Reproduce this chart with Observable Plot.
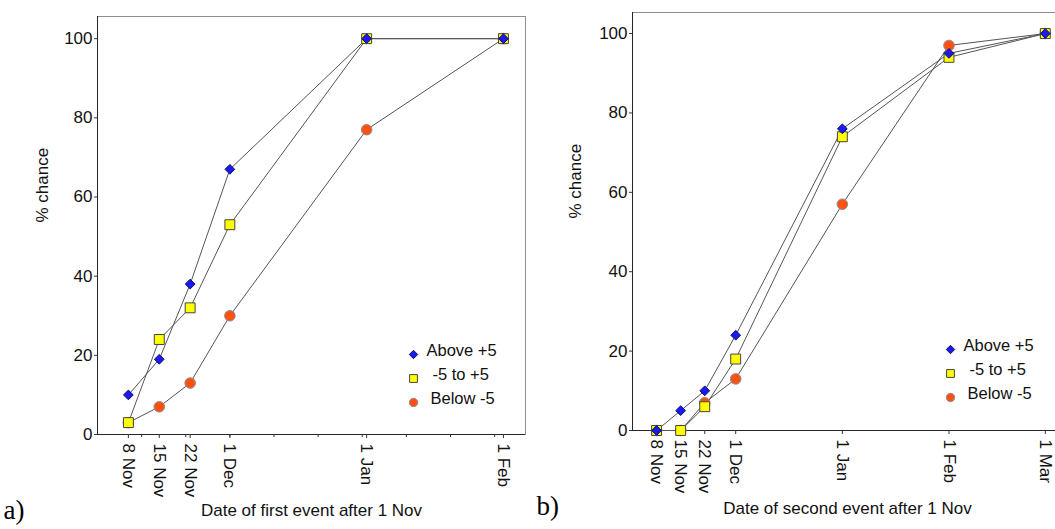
<!DOCTYPE html>
<html>
<head>
<meta charset="utf-8">
<script src="https://cdn.jsdelivr.net/npm/d3@7"></script>
<script src="https://cdn.jsdelivr.net/npm/@observablehq/plot@0.6"></script>
<style>
  html, body { margin: 0; padding: 0; background: #fff; overflow: hidden; }
  #wrap { position: relative; width: 1055px; height: 529px; overflow: hidden; background: #fff; }
  #wrap > svg { position: absolute; top: 0; }
</style>
</head>
<body>
<div id="wrap"></div>
<script>
// ---- data (x = days after 1 Nov) ----
const seriesNames = ["Above +5", "-5 to +5", "Below -5"];

const daysA = [7, 14, 21, 30, 61, 92];
const tickLabelsA = ["8 Nov", "15 Nov", "22 Nov", "1 Dec", "1 Jan", "1 Feb"];
const aboveA = [10, 19, 38, 67, 100, 100];
const midA = [3, 24, 32, 53, 100, 100];
const belowA = [3, 7, 13, 30, 77, 100];
const minorTicksA = [10, 20, 30, 40, 50, 60, 70, 80, 90];

const daysB = [7, 14, 21, 30, 61, 92, 120];
const tickLabelsB = ["8 Nov", "15 Nov", "22 Nov", "1 Dec", "1 Jan", "1 Feb", "1 Mar"];
const aboveB = [0, 5, 10, 24, 76, 95, 100];
const midB = [0, 0, 6, 18, 74, 94, 100];
const belowB = [0, 0, 7, 13, 57, 97, 100];

const yTicks = [0, 20, 40, 60, 80, 100];

// ---- styles ----
const symbols = ["diamond2", "square", "circle"];
const fills = ["#1a1aee", "#ffff00", "#ff5212"];
const strokes = ["#10106a", "#444444", "#8f8f8f"];
const radii = [4.4, 5.6, 5.3];
const legendRadii = [3.8, 4.4, 4.2];
const legendTextDx = [-99, -93, -95];
const FONT = "'Liberation Sans', Arial, Helvetica, sans-serif";

function panel(cfg) {
  const series = [cfg.above, cfg.mid, cfg.below].map(vals =>
    cfg.days.map((d, i) => ({day: d, v: vals[i]})));
  const order = [2, 1, 0];
  const marks = [
    Plot.frame({stroke: "#8e8e8e"}),
    Plot.ruleY([0], {stroke: "#262626"}),
    Plot.ruleX([cfg.xDomain[0]], {stroke: "#262626"})
  ];
  if (cfg.minor) {
    marks.push(Plot.axisX({ticks: cfg.minor, tickSize: 3, tickFormat: () => "", stroke: "#333"}));
  }
  marks.push(
    Plot.axisX({
      ticks: cfg.days, tickSize: 4, tickPadding: 5, tickRotate: 90, stroke: "#333",
      tickFormat: d => cfg.labels[cfg.days.indexOf(d)], fontSize: 17, fill: "#111"
    }),
    Plot.axisY({ticks: yTicks, tickSize: 3, tickPadding: 2, stroke: "#333", fontSize: 17, fill: "#111"})
  );
  for (const k of order) {
    marks.push(Plot.line(series[k], {x: "day", y: "v", stroke: "#555", strokeWidth: 1}));
  }
  for (const k of order) {
    marks.push(Plot.dot(series[k], {
      x: "day", y: "v", symbol: symbols[k], r: radii[k],
      fill: fills[k], stroke: strokes[k], strokeWidth: 1
    }));
  }
  // legend
  seriesNames.forEach((name, k) => {
    const dy = -80 + 24 * k - cfg.legendShift;
    marks.push(Plot.dot([name], {
      frameAnchor: "bottom-right", dx: -112, dy,
      symbol: symbols[k], r: legendRadii[k], fill: fills[k], stroke: strokes[k], strokeWidth: 1
    }));
    marks.push(Plot.text([name], {
      text: d => d, frameAnchor: "bottom-right", dx: legendTextDx[k], dy: dy + 1,
      textAnchor: "start", fontSize: 16.5, fill: "#111"
    }));
  });
  // titles
  marks.push(
    Plot.text([cfg.xTitle], {text: d => d, frameAnchor: "bottom", dy: cfg.xTitleDy, fontSize: 17, fill: "#111"}),
    Plot.text(["% chance"], {text: d => d, frameAnchor: "left", dx: cfg.yTitleDx, dy: -3, rotate: -90, fontSize: 17, fill: "#111"}),
    Plot.text([cfg.tag], {
      text: d => d, frameAnchor: "bottom-left", dx: cfg.tagDx, dy: 84, textAnchor: "start",
      fontFamily: "'Liberation Serif', 'Times New Roman', serif", fontSize: 27, fill: "#000"
    })
  );
  return Plot.plot({
    width: cfg.width, height: 529,
    marginLeft: cfg.ml, marginRight: cfg.mr, marginTop: cfg.mt, marginBottom: cfg.mb,
    x: {domain: cfg.xDomain, label: null},
    y: {domain: cfg.yDomain, label: null},
    style: {fontFamily: FONT, fontSize: "17px", background: "transparent", overflow: "visible"},
    marks
  });
}

const wrap = document.getElementById("wrap");

const left = panel({
  days: daysA, labels: tickLabelsA, above: aboveA, mid: midA, below: belowA, minor: minorTicksA,
  width: 530, ml: 97, mr: 5, mt: 16, mb: 95,
  xDomain: [0, 97], yDomain: [0, 105.6],
  xTitle: "Date of first event after 1 Nov", xTitleDy: 81, yTitleDx: -55,
  tag: "a)", tagDx: -94, legendShift: 0
});
left.style.left = "0px";

const right = panel({
  days: daysB, labels: tickLabelsB, above: aboveB, mid: midB, below: belowB, minor: null,
  width: 540, ml: 102, mr: 8, mt: 12, mb: 99,
  xDomain: [0, 125], yDomain: [0, 105.3],
  xTitle: "Date of second event after 1 Nov", xTitleDy: 83, yTitleDx: -57,
  tag: "b)", tagDx: -96, legendShift: 1
});
right.style.left = "530px";

wrap.appendChild(left);
wrap.appendChild(right);
</script>
</body>
</html>
